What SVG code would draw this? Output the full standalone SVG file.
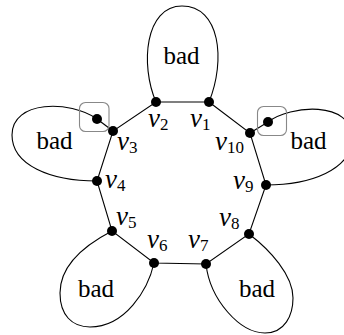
<svg xmlns="http://www.w3.org/2000/svg" width="344" height="335" viewBox="0 0 344 335">
<style>
.e{fill:none;stroke:#000;stroke-width:1.1}
.n{fill:#000}
.box{fill:none;stroke:#888;stroke-width:1.1}
text{font-family:'Liberation Serif','DejaVu Serif',serif;fill:#000}
.bad{font-size:25px;text-anchor:middle}
.lbl{font-size:27px;font-style:italic}
.sub{font-size:17px;font-style:normal}
</style>
<rect width="344" height="335" fill="#fff"/>
<g id="connectors">
<path class="e" d="M209,102 L156,102 L113,131 L97,181 L112,231 L154,263 L206,264 L249,234 L266,185 L250,133 L209,102"/>
<path class="e" d="M113,131 L97,119"/>
<path class="e" d="M250,133 L268,122"/>
<path class="e" d="M156,102 C140,65 145,6 182,6 C220,6 226,60 209,102"/>
<path class="e" d="M97,119 C70,100 12,100 12,135 C12,165 50,181 97,181"/>
<path class="e" d="M268,122 C290,105 352,100 352,138 C352,170 310,185 266,185"/>
<path class="e" d="M112,231 C85,245 60,265 60,293 C60,315 72,327 90,327 C125,327 148,290 154,263"/>
<path class="e" d="M206,264 C210,300 240,333 265,333 C285,333 293,315 293,298 C293,275 270,250 249,234"/>
</g>
<g id="box3"><rect class="box" x="79.5" y="102.5" width="29.5" height="29" rx="6"/></g>
<g id="box10"><rect class="box" x="257.5" y="106.5" width="29" height="29" rx="6"/></g>
<g id="v1"><circle class="n" cx="209" cy="102" r="5"/><text class="lbl" x="190" y="127">v<tspan class="sub" dy="3">1</tspan></text></g>
<g id="v2"><circle class="n" cx="156" cy="102" r="5"/><text class="lbl" x="148" y="127">v<tspan class="sub" dy="3">2</tspan></text></g>
<g id="v3"><circle class="n" cx="113" cy="131" r="5"/><text class="lbl" x="117" y="150">v<tspan class="sub" dy="3">3</tspan></text></g>
<g id="v3x"><circle class="n" cx="97" cy="119" r="5"/></g>
<g id="v4"><circle class="n" cx="97" cy="181" r="5"/><text class="lbl" x="105" y="188">v<tspan class="sub" dy="3">4</tspan></text></g>
<g id="v5"><circle class="n" cx="112" cy="231" r="5"/><text class="lbl" x="116" y="225">v<tspan class="sub" dy="3">5</tspan></text></g>
<g id="v6"><circle class="n" cx="154" cy="263" r="5"/><text class="lbl" x="147" y="248">v<tspan class="sub" dy="3">6</tspan></text></g>
<g id="v7"><circle class="n" cx="206" cy="264" r="5"/><text class="lbl" x="188" y="248">v<tspan class="sub" dy="3">7</tspan></text></g>
<g id="v8"><circle class="n" cx="249" cy="234" r="5"/><text class="lbl" x="219" y="226">v<tspan class="sub" dy="3">8</tspan></text></g>
<g id="v9"><circle class="n" cx="266" cy="185" r="5"/><text class="lbl" x="233" y="189">v<tspan class="sub" dy="3">9</tspan></text></g>
<g id="v10"><circle class="n" cx="250" cy="133" r="5"/><text class="lbl" x="215" y="150">v<tspan class="sub" dy="3">10</tspan></text></g>
<g id="v10x"><circle class="n" cx="268" cy="122" r="5"/></g>
<g id="bad-top"><text class="bad" x="181.5" y="64">bad</text></g>
<g id="bad-left"><text class="bad" x="54.5" y="149">bad</text></g>
<g id="bad-right"><text class="bad" x="308.5" y="149">bad</text></g>
<g id="bad-bl"><text class="bad" x="96" y="297">bad</text></g>
<g id="bad-br"><text class="bad" x="257" y="297">bad</text></g>
</svg>
